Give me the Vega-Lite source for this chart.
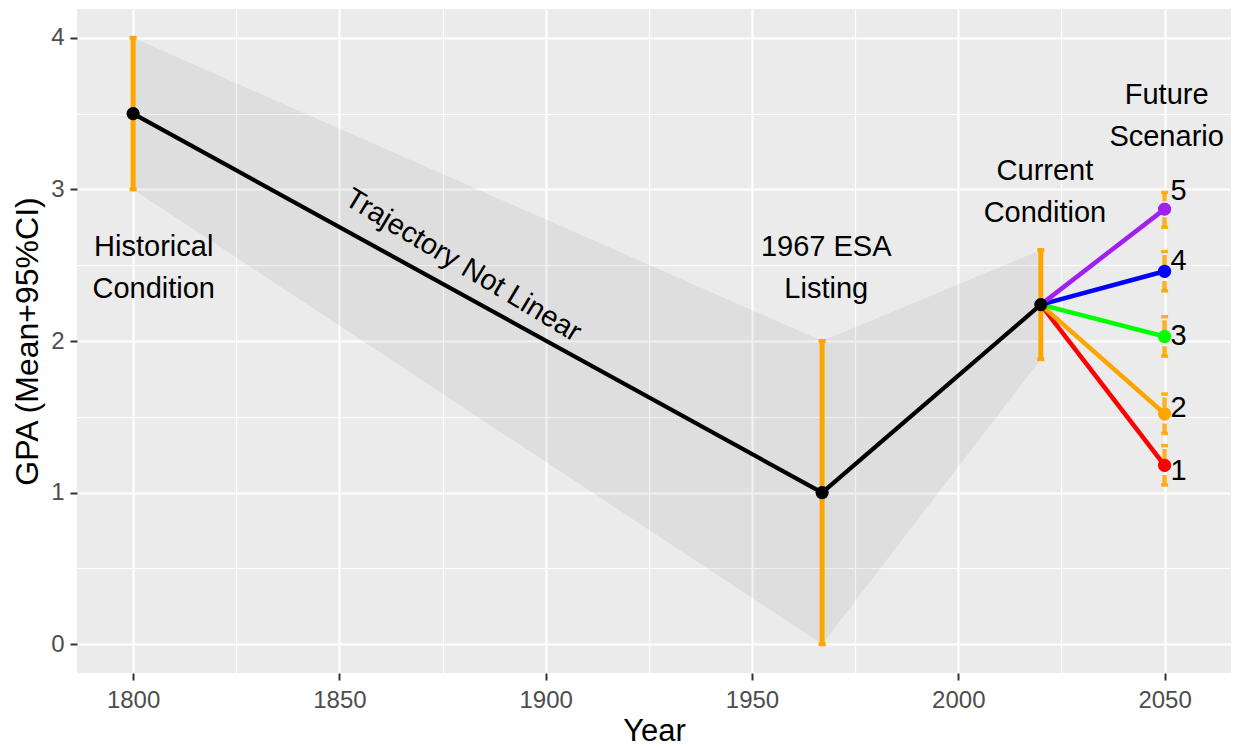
{
  "$schema": "https://vega.github.io/schema/vega-lite/v6.json",
  "width": 1154,
  "height": 664,
  "autosize": {"type": "none"},
  "padding": {"left": 77, "top": 9, "right": 3, "bottom": 75},
  "background": "white",
  "config": {
    "view": {"fill": "#EBEBEB", "stroke": null},
    "font": "Liberation Sans",
    "text": {"font": "Liberation Sans"}
  },
  "datasets": {
    "main": [
      {"year": 1800, "gpa": 3.5, "lo": 3.0, "hi": 4.0},
      {"year": 1967, "gpa": 1.0, "lo": 0.0, "hi": 2.0},
      {"year": 2020, "gpa": 2.24, "lo": 1.88, "hi": 2.6}
    ],
    "future": [
      {"scenario": "1", "from_year": 2020, "from_gpa": 2.24, "year": 2050, "gpa": 1.18, "lo": 1.05, "hi": 1.31, "label_x": 2053.4, "label_y": 1.14},
      {"scenario": "2", "from_year": 2020, "from_gpa": 2.24, "year": 2050, "gpa": 1.52, "lo": 1.39, "hi": 1.65, "label_x": 2053.4, "label_y": 1.56},
      {"scenario": "3", "from_year": 2020, "from_gpa": 2.24, "year": 2050, "gpa": 2.03, "lo": 1.9, "hi": 2.16, "label_x": 2053.4, "label_y": 2.03},
      {"scenario": "4", "from_year": 2020, "from_gpa": 2.24, "year": 2050, "gpa": 2.46, "lo": 2.33, "hi": 2.59, "label_x": 2053.4, "label_y": 2.53},
      {"scenario": "5", "from_year": 2020, "from_gpa": 2.24, "year": 2050, "gpa": 2.87, "lo": 2.75, "hi": 2.98, "label_x": 2053.4, "label_y": 2.99}
    ],
    "notes": [
      {"x": 1805, "y": 2.5, "label": "Historical\nCondition"},
      {"x": 1968, "y": 2.5, "label": "1967 ESA\nListing"},
      {"x": 2021, "y": 3.0, "label": "Current\nCondition"},
      {"x": 2050.5, "y": 3.5, "label": "Future\nScenario"}
    ],
    "trajectory": [
      {"x": 1880, "y": 2.5, "label": "Trajectory Not Linear"}
    ]
  },
  "layer": [
    {
      "data": {"name": "main"},
      "mark": {"type": "area", "color": "#333333", "opacity": 0.07},
      "encoding": {
        "x": {
          "field": "year", "type": "quantitative", "title": "Year",
          "scale": {"domain": [1786.4, 2066.1], "nice": false, "zero": false},
          "axis": {
            "values": [1800, 1825, 1850, 1875, 1900, 1925, 1950, 1975, 2000, 2025, 2050],
            "labelExpr": "datum.value % 50 === 0 ? format(datum.value, 'd') : ''",
            "grid": true,
            "gridColor": "white",
            "gridWidth": {"condition": {"test": "datum.value % 50 === 0", "value": 2.2}, "value": 1.2},
            "domain": false,
            "tickColor": "#333333",
            "tickWidth": 2,
            "tickSize": 7,
            "tickOpacity": {"condition": {"test": "datum.value % 50 === 0", "value": 1}, "value": 0},
            "labelFont": "Liberation Sans",
            "labelFontSize": 24,
            "labelColor": "#4D4D4D",
            "labelPadding": 8,
            "labelFlush": false,
            "labelOverlap": false,
            "titleFont": "Liberation Sans",
            "titleFontSize": 31,
            "titleFontWeight": "normal",
            "titleColor": "black",
            "titlePadding": 4
          }
        },
        "y": {
          "field": "hi", "type": "quantitative", "title": "GPA (Mean+95%CI)",
          "scale": {"domain": [-0.19, 4.19], "nice": false, "zero": false},
          "axis": {
            "values": [0, 0.5, 1, 1.5, 2, 2.5, 3, 3.5, 4],
            "labelExpr": "datum.value % 1 === 0 ? format(datum.value, 'd') : ''",
            "grid": true,
            "gridColor": "white",
            "gridWidth": {"condition": {"test": "datum.value % 1 === 0", "value": 2.2}, "value": 1.2},
            "domain": false,
            "tickColor": "#333333",
            "tickWidth": 2,
            "tickSize": 7,
            "tickOpacity": {"condition": {"test": "datum.value % 1 === 0", "value": 1}, "value": 0},
            "labelFont": "Liberation Sans",
            "labelFontSize": 24,
            "labelColor": "#4D4D4D",
            "labelPadding": 6,
            "labelFlush": false,
            "labelOverlap": false,
            "titleFont": "Liberation Sans",
            "titleFontSize": 32,
            "titleFontWeight": "normal",
            "titleColor": "black",
            "titlePadding": 6
          }
        },
        "y2": {"field": "lo"}
      }
    },
    {
      "data": {"name": "main"},
      "mark": {"type": "rule", "color": "#FFA500", "strokeWidth": 5},
      "encoding": {
        "x": {"field": "year", "type": "quantitative", "title": "Year", "scale": {"domain": [1786.4, 2066.1], "nice": false, "zero": false}},
        "y": {"field": "lo", "type": "quantitative", "title": "GPA (Mean+95%CI)", "scale": {"domain": [-0.19, 4.19], "nice": false, "zero": false}},
        "y2": {"field": "hi"}
      }
    },
    {
      "data": {"name": "main"},
      "transform": [{"fold": ["lo", "hi"], "as": ["bound", "value"]}],
      "mark": {"type": "tick", "orient": "horizontal", "color": "#FFA500", "size": 7, "thickness": 4, "opacity": 1},
      "encoding": {
        "x": {"field": "year", "type": "quantitative", "title": "Year", "scale": {"domain": [1786.4, 2066.1], "nice": false, "zero": false}},
        "y": {"field": "value", "type": "quantitative", "title": "GPA (Mean+95%CI)", "scale": {"domain": [-0.19, 4.19], "nice": false, "zero": false}}
      }
    },
    {
      "data": {"name": "future"},
      "mark": {"type": "rule", "color": "#FFA500", "strokeWidth": 4.5, "strokeDash": [10, 3], "opacity": 0.85},
      "encoding": {
        "x": {"field": "year", "type": "quantitative", "title": "Year", "scale": {"domain": [1786.4, 2066.1], "nice": false, "zero": false}},
        "y": {"field": "lo", "type": "quantitative", "title": "GPA (Mean+95%CI)", "scale": {"domain": [-0.19, 4.19], "nice": false, "zero": false}},
        "y2": {"field": "hi"}
      }
    },
    {
      "data": {"name": "future"},
      "transform": [{"fold": ["lo", "hi"], "as": ["bound", "value"]}],
      "mark": {"type": "tick", "orient": "horizontal", "color": "#FFA500", "size": 7, "thickness": 3.5, "opacity": 0.85},
      "encoding": {
        "x": {"field": "year", "type": "quantitative", "title": "Year", "scale": {"domain": [1786.4, 2066.1], "nice": false, "zero": false}},
        "y": {"field": "value", "type": "quantitative", "title": "GPA (Mean+95%CI)", "scale": {"domain": [-0.19, 4.19], "nice": false, "zero": false}}
      }
    },
    {
      "data": {"name": "main"},
      "mark": {"type": "line", "color": "black", "strokeWidth": 4.2},
      "encoding": {
        "x": {"field": "year", "type": "quantitative", "title": "Year", "scale": {"domain": [1786.4, 2066.1], "nice": false, "zero": false}},
        "y": {"field": "gpa", "type": "quantitative", "title": "GPA (Mean+95%CI)", "scale": {"domain": [-0.19, 4.19], "nice": false, "zero": false}}
      }
    },
    {
      "data": {"name": "future"},
      "mark": {"type": "rule", "strokeWidth": 4.5},
      "encoding": {
        "x": {"field": "from_year", "type": "quantitative", "title": "Year", "scale": {"domain": [1786.4, 2066.1], "nice": false, "zero": false}},
        "y": {"field": "from_gpa", "type": "quantitative", "title": "GPA (Mean+95%CI)", "scale": {"domain": [-0.19, 4.19], "nice": false, "zero": false}},
        "x2": {"field": "year"},
        "y2": {"field": "gpa"},
        "color": {
          "field": "scenario", "type": "nominal", "legend": null,
          "scale": {"domain": ["1", "2", "3", "4", "5"], "range": ["#FF0000", "#FFA500", "#00FF00", "#0000FF", "#A020F0"]}
        }
      }
    },
    {
      "data": {"name": "main"},
      "mark": {"type": "point", "filled": true, "color": "black", "size": 175, "opacity": 1},
      "encoding": {
        "x": {"field": "year", "type": "quantitative", "title": "Year", "scale": {"domain": [1786.4, 2066.1], "nice": false, "zero": false}},
        "y": {"field": "gpa", "type": "quantitative", "title": "GPA (Mean+95%CI)", "scale": {"domain": [-0.19, 4.19], "nice": false, "zero": false}}
      }
    },
    {
      "data": {"name": "future"},
      "mark": {"type": "point", "filled": true, "size": 175, "opacity": 1},
      "encoding": {
        "x": {"field": "year", "type": "quantitative", "title": "Year", "scale": {"domain": [1786.4, 2066.1], "nice": false, "zero": false}},
        "y": {"field": "gpa", "type": "quantitative", "title": "GPA (Mean+95%CI)", "scale": {"domain": [-0.19, 4.19], "nice": false, "zero": false}},
        "color": {
          "field": "scenario", "type": "nominal", "legend": null,
          "scale": {"domain": ["1", "2", "3", "4", "5"], "range": ["#FF0000", "#FFA500", "#00FF00", "#0000FF", "#A020F0"]}
        }
      }
    },
    {
      "data": {"name": "future"},
      "mark": {"type": "text", "fontSize": 29, "color": "black", "align": "center", "baseline": "middle", "font": "Liberation Sans"},
      "encoding": {
        "x": {"field": "label_x", "type": "quantitative", "title": "Year", "scale": {"domain": [1786.4, 2066.1], "nice": false, "zero": false}},
        "y": {"field": "label_y", "type": "quantitative", "title": "GPA (Mean+95%CI)", "scale": {"domain": [-0.19, 4.19], "nice": false, "zero": false}},
        "text": {"field": "scenario"}
      }
    },
    {
      "data": {"name": "notes"},
      "mark": {"type": "text", "fontSize": 29, "color": "black", "align": "center", "baseline": "middle", "lineBreak": "\n", "lineHeight": 42, "dy": -18.5, "font": "Liberation Sans"},
      "encoding": {
        "x": {"field": "x", "type": "quantitative", "title": "Year", "scale": {"domain": [1786.4, 2066.1], "nice": false, "zero": false}},
        "y": {"field": "y", "type": "quantitative", "title": "GPA (Mean+95%CI)", "scale": {"domain": [-0.19, 4.19], "nice": false, "zero": false}},
        "text": {"field": "label"}
      }
    },
    {
      "data": {"name": "trajectory"},
      "mark": {"type": "text", "fontSize": 29, "color": "black", "align": "center", "baseline": "middle", "angle": 31, "font": "Liberation Sans"},
      "encoding": {
        "x": {"field": "x", "type": "quantitative", "title": "Year", "scale": {"domain": [1786.4, 2066.1], "nice": false, "zero": false}},
        "y": {"field": "y", "type": "quantitative", "title": "GPA (Mean+95%CI)", "scale": {"domain": [-0.19, 4.19], "nice": false, "zero": false}},
        "text": {"field": "label"}
      }
    }
  ]
}
